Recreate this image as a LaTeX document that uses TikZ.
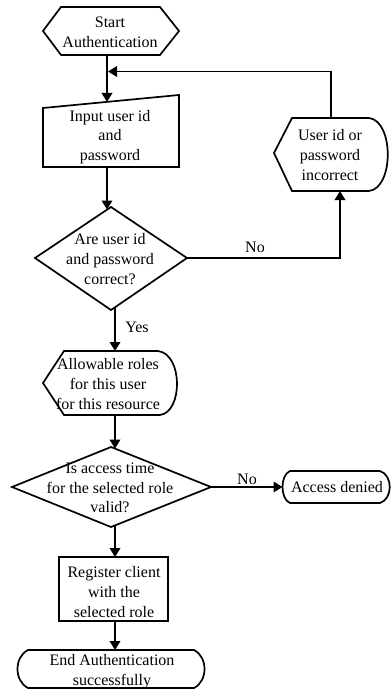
\documentclass[tikz,border=0pt]{standalone}
\usepackage{fontspec}
\setmainfont{Liberation Serif}
\usetikzlibrary{arrows.meta,calc}

\begin{document}
\begin{tikzpicture}[
  x=1pt, y=-1pt,
  txt/.style={inner sep=0pt, align=center, font=\fontsize{16}{19.8}\selectfont},
  lbl/.style={inner sep=0pt, font=\fontsize{16}{19.8}\selectfont},
  outline/.style={draw=black, line width=1.7pt, line join=miter},
  link/.style={draw=black, line width=1.9pt,
    -{Triangle[length=9pt,width=10.5pt]}},
  plain/.style={draw=black, line width=1.9pt}
]
\useasboundingbox (0,0) rectangle (391,690);

% ---- texts of the steps ----
\node[txt] (start)     at (110,32)  {Start\\Authentication};
\node[txt] (input)     at (110,137) {Input user id\\and\\password};
\node[txt] (incorrect) at (330,155) {User id or\\password\\incorrect};
\node[txt] (check)     at (110,259) {Are user id\\and password\\correct?};
\node[txt] (allow)     at (108,384) {Allowable roles\\for this user\\for this resource};
\node[txt] (timeok)    at (110,488) {Is access time\\for the selected role\\valid?};
\node[txt] (denied)    at (337,487) {Access denied};
\node[txt] (register)  at (114,592) {Register client\\with the\\selected role};
\node[txt] (finish)    at (112,672) {End Authentication\\successfully};

% ---- outlines ----
% preparation hexagon
\begin{scope}[shift={(start.center)}]
  \draw[outline] (-67,-1) -- (-49,-25) -- (50,-25) -- (69,-1) -- (50,23) -- (-49,23) -- cycle;
\end{scope}
% manual input
\begin{scope}[shift={(input.center)}]
  \draw[outline] (-67,-29) -- (69,-42) -- (69,30) -- (-67,30) -- cycle;
\end{scope}
% display
\begin{scope}[shift={(incorrect.center)}]
  \draw[outline] (-56,-2) -- (-38,-37) -- (39,-37)
    .. controls (64,-34) and (64,33) .. (39,36) -- (-38,36) -- cycle;
\end{scope}
% decision
\begin{scope}[shift={(check.center)}]
  \draw[outline] (1,-52) -- (77,-1) -- (1,51) -- (-75,-1) -- cycle;
\end{scope}
% display
\begin{scope}[shift={(allow.center)}]
  \draw[outline] (-65,-1) -- (-44,-33) -- (50,-33)
    .. controls (75,-30) and (75,28) .. (52,31) -- (-44,31) -- cycle;
\end{scope}
% decision
\begin{scope}[shift={(timeok.center)}]
  \draw[outline] (1,-41) -- (101,-1) -- (1,39) -- (-98,-1) -- cycle;
\end{scope}
% terminal
\begin{scope}[shift={(denied.center)}]
  \draw[outline] (-47,-16) -- (43,-16)
    .. controls (56,-12) and (56,12) .. (43,16) -- (-47,16)
    .. controls (-57,12) and (-57,-12) .. (-47,-16) -- cycle;
\end{scope}
% process
\begin{scope}[shift={(register.center)}]
  \draw[outline] (-55,-35) rectangle (54,29);
\end{scope}
% terminal
\begin{scope}[shift={(finish.center)}]
  \draw[outline] (-84,-22) -- (82,-22)
    .. controls (96,-15) and (96,9) .. (82,16) -- (-84,16)
    .. controls (-98,9) and (-98,-15) .. (-84,-22) -- cycle;
\end{scope}

% ---- connectors ----
\draw[link] ($(start)+(-3,23)$) -- ($(input)+(-3,-35)$);
\draw[link] ($(input)+(-3,30)$) -- ($(check)+(-3,-49.5)$);
\draw[link] ($(check)+(77,-1)$) -| ($(incorrect)+(10,36)$);
\draw[link] ($(incorrect)+(1,-37)$) |- ($(start)+(-2,39.5)$);
\draw[link] ($(check)+(5,48)$) -- ($(allow)+(7,-33)$);
\draw[link] ($(allow)+(7,31)$) -- ($(timeok)+(5,-39.4)$);
\draw[link] ($(timeok)+(101,-1)$) -- ($(denied)+(-54.5,0)$);
\draw[link] ($(timeok)+(5,37.4)$) -- ($(register)+(1,-35)$);
\draw[link] ($(register)+(1,29)$) -- ($(finish)+(3,-22)$);

% ---- branch labels ----
\node[lbl] (no1)  at (255,247) {No};
\node[lbl] (yes1) at (137,327) {Yes};
\node[lbl] (no2)  at (247,479) {No};
\end{tikzpicture}
\end{document}
